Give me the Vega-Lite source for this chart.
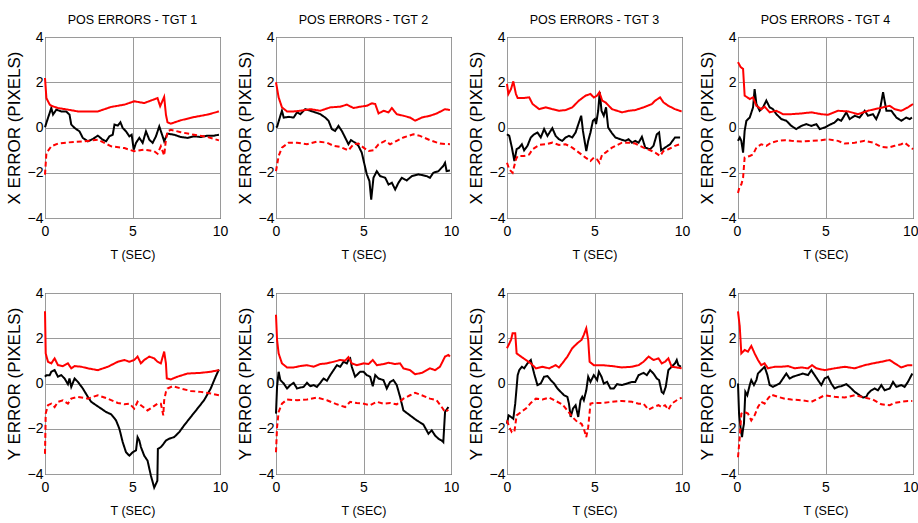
{
  "$schema": "https://vega.github.io/schema/vega-lite/v6.json",
  "background": "#ffffff",
  "padding": {"left": 4, "top": 13, "right": 0, "bottom": 5},
  "config": {
    "font": "Liberation Sans",
    "view": {"stroke": "#000000", "strokeWidth": 1},
    "axis": {
      "grid": true,
      "gridColor": "#9a9a9a",
      "gridWidth": 1,
      "domain": false,
      "ticks": false,
      "labelFont": "Liberation Sans",
      "labelFontSize": 14,
      "labelColor": "#000000",
      "labelFlush": false,
      "titleColor": "#000000",
      "titleFontWeight": "normal"
    },
    "axisX": {"labelPadding": 6, "titleFont": "Liberation Sans", "titleFontSize": 12.5, "titlePadding": 10},
    "axisY": {"labelPadding": 2, "titleFont": "Liberation Sans", "titleFontSize": 17, "titlePadding": 4},
    "title": {"font": "Liberation Sans", "fontSize": 12.5, "fontWeight": "normal", "color": "#000000", "baseline": "alphabetic", "offset": 3.5},
    "line": {"strokeWidth": 2, "clip": true}
  },
  "datasets": {
    "X1": [
      {"s":"err","t":0,"v":0.01},{"s":"err","t":0.17,"v":0.42},{"s":"err","t":0.36,"v":0.86},{"s":"err","t":0.46,"v":0.57},{"s":"err","t":0.65,"v":0.79},{"s":"err","t":0.93,"v":0.71},{"s":"err","t":1.21,"v":0.71},{"s":"err","t":1.40,"v":0.57},{"s":"err","t":1.50,"v":0.13},{"s":"err","t":1.69,"v":-0.02},{"s":"err","t":1.97,"v":-0.17},{"s":"err","t":2.16,"v":-0.46},{"s":"err","t":2.45,"v":-0.61},{"s":"err","t":2.73,"v":-0.51},{"s":"err","t":3.02,"v":-0.36},{"s":"err","t":3.30,"v":-0.54},{"s":"err","t":3.49,"v":-0.61},{"s":"err","t":3.68,"v":-0.39},{"s":"err","t":3.87,"v":-0.32},{"s":"err","t":3.97,"v":0.13},{"s":"err","t":4.16,"v":0.08},{"s":"err","t":4.31,"v":0.23},{"s":"err","t":4.44,"v":-0.02},{"s":"err","t":4.63,"v":-0.17},{"s":"err","t":4.82,"v":-0.39},{"s":"err","t":4.95,"v":-0.32},{"s":"err","t":5.07,"v":-0.98},{"s":"err","t":5.20,"v":-0.68},{"s":"err","t":5.39,"v":-0.46},{"s":"err","t":5.58,"v":-0.68},{"s":"err","t":5.77,"v":-0.17},{"s":"err","t":5.96,"v":-0.54},{"s":"err","t":6.15,"v":-0.68},{"s":"err","t":6.34,"v":-0.39},{"s":"err","t":6.53,"v":0.05},{"s":"err","t":6.72,"v":-0.39},{"s":"err","t":6.81,"v":-0.61},{"s":"err","t":7.00,"v":-0.27},{"s":"err","t":7.38,"v":-0.32},{"s":"err","t":7.76,"v":-0.42},{"s":"err","t":8.14,"v":-0.46},{"s":"err","t":8.52,"v":-0.39},{"s":"err","t":8.90,"v":-0.42},{"s":"err","t":9.28,"v":-0.36},{"s":"err","t":9.66,"v":-0.36},{"s":"err","t":9.94,"v":-0.32},
      {"s":"hi","t":0,"v":2.19},{"s":"hi","t":0.08,"v":1.30},{"s":"hi","t":0.27,"v":1.01},{"s":"hi","t":0.36,"v":0.96},{"s":"hi","t":0.74,"v":0.86},{"s":"hi","t":1.31,"v":0.79},{"s":"hi","t":1.88,"v":0.71},{"s":"hi","t":2.26,"v":0.71},{"s":"hi","t":3.02,"v":0.71},{"s":"hi","t":3.78,"v":0.91},{"s":"hi","t":4.54,"v":1.01},{"s":"hi","t":5.10,"v":1.16},{"s":"hi","t":5.67,"v":1.08},{"s":"hi","t":6.43,"v":1.30},{"s":"hi","t":6.58,"v":0.94},{"s":"hi","t":6.81,"v":1.35},{"s":"hi","t":6.91,"v":0.57},{"s":"hi","t":7.00,"v":0.23},{"s":"hi","t":7.19,"v":0.17},{"s":"hi","t":7.76,"v":0.32},{"s":"hi","t":8.52,"v":0.46},{"s":"hi","t":9.28,"v":0.57},{"s":"hi","t":9.94,"v":0.71},
      {"s":"lo","t":0,"v":-2.08},{"s":"lo","t":0.08,"v":-1.13},{"s":"lo","t":0.36,"v":-0.83},{"s":"lo","t":0.74,"v":-0.71},{"s":"lo","t":1.31,"v":-0.66},{"s":"lo","t":2.26,"v":-0.61},{"s":"lo","t":3.02,"v":-0.54},{"s":"lo","t":3.78,"v":-0.83},{"s":"lo","t":4.54,"v":-0.91},{"s":"lo","t":5.10,"v":-1.05},{"s":"lo","t":5.67,"v":-0.98},{"s":"lo","t":6.24,"v":-1.05},{"s":"lo","t":6.43,"v":-1.16},{"s":"lo","t":6.62,"v":-0.83},{"s":"lo","t":6.81,"v":-1.24},{"s":"lo","t":6.91,"v":-0.54},{"s":"lo","t":7.00,"v":-0.17},{"s":"lo","t":7.19,"v":-0.10},{"s":"lo","t":7.76,"v":-0.21},{"s":"lo","t":8.52,"v":-0.32},{"s":"lo","t":9.28,"v":-0.42},{"s":"lo","t":9.94,"v":-0.57}
    ],
    "X2": [
      {"s":"err","t":0,"v":0.0},{"s":"err","t":0.06,"v":0.03},{"s":"err","t":0.25,"v":0.52},{"s":"err","t":0.34,"v":0.74},{"s":"err","t":0.44,"v":0.44},{"s":"err","t":0.72,"v":0.47},{"s":"err","t":1.01,"v":0.44},{"s":"err","t":1.20,"v":0.67},{"s":"err","t":1.39,"v":0.59},{"s":"err","t":1.67,"v":0.81},{"s":"err","t":1.96,"v":0.74},{"s":"err","t":2.24,"v":0.67},{"s":"err","t":2.53,"v":0.59},{"s":"err","t":2.81,"v":0.44},{"s":"err","t":3.00,"v":0.30},{"s":"err","t":3.19,"v":-0.07},{"s":"err","t":3.38,"v":-0.15},{"s":"err","t":3.57,"v":0.07},{"s":"err","t":3.76,"v":-0.15},{"s":"err","t":3.95,"v":-0.44},{"s":"err","t":4.14,"v":-0.74},{"s":"err","t":4.28,"v":-0.56},{"s":"err","t":4.52,"v":-0.67},{"s":"err","t":4.71,"v":-0.81},{"s":"err","t":4.90,"v":-1.11},{"s":"err","t":5.10,"v":-1.78},{"s":"err","t":5.19,"v":-2.07},{"s":"err","t":5.34,"v":-2.37},{"s":"err","t":5.44,"v":-3.19},{"s":"err","t":5.57,"v":-2.22},{"s":"err","t":5.76,"v":-1.93},{"s":"err","t":5.95,"v":-2.15},{"s":"err","t":6.24,"v":-2.22},{"s":"err","t":6.43,"v":-2.52},{"s":"err","t":6.62,"v":-2.44},{"s":"err","t":6.81,"v":-2.74},{"s":"err","t":7.00,"v":-2.44},{"s":"err","t":7.19,"v":-2.22},{"s":"err","t":7.47,"v":-2.34},{"s":"err","t":7.76,"v":-2.15},{"s":"err","t":8.14,"v":-2.07},{"s":"err","t":8.61,"v":-2.15},{"s":"err","t":8.80,"v":-2.22},{"s":"err","t":8.99,"v":-2.0},{"s":"err","t":9.28,"v":-1.93},{"s":"err","t":9.56,"v":-1.70},{"s":"err","t":9.66,"v":-1.56},{"s":"err","t":9.75,"v":-1.93},{"s":"err","t":9.94,"v":-1.90},
      {"s":"hi","t":0,"v":2.0},{"s":"hi","t":0.15,"v":1.33},{"s":"hi","t":0.34,"v":0.89},{"s":"hi","t":0.63,"v":0.71},{"s":"hi","t":1.01,"v":0.71},{"s":"hi","t":1.39,"v":0.74},{"s":"hi","t":1.96,"v":0.81},{"s":"hi","t":2.53,"v":0.74},{"s":"hi","t":3.10,"v":0.89},{"s":"hi","t":3.67,"v":0.92},{"s":"hi","t":4.05,"v":1.01},{"s":"hi","t":4.43,"v":0.86},{"s":"hi","t":4.81,"v":0.92},{"s":"hi","t":5.19,"v":0.96},{"s":"hi","t":5.48,"v":1.07},{"s":"hi","t":5.67,"v":1.04},{"s":"hi","t":5.86,"v":0.62},{"s":"hi","t":6.14,"v":0.74},{"s":"hi","t":6.43,"v":0.67},{"s":"hi","t":6.62,"v":0.86},{"s":"hi","t":6.90,"v":0.59},{"s":"hi","t":7.28,"v":0.52},{"s":"hi","t":7.66,"v":0.44},{"s":"hi","t":7.95,"v":0.30},{"s":"hi","t":8.33,"v":0.44},{"s":"hi","t":8.80,"v":0.52},{"s":"hi","t":9.18,"v":0.62},{"s":"hi","t":9.66,"v":0.81},{"s":"hi","t":9.94,"v":0.77},
      {"s":"lo","t":0,"v":-1.93},{"s":"lo","t":0.15,"v":-1.26},{"s":"lo","t":0.34,"v":-0.89},{"s":"lo","t":0.72,"v":-0.67},{"s":"lo","t":1.20,"v":-0.67},{"s":"lo","t":1.77,"v":-0.74},{"s":"lo","t":2.34,"v":-0.62},{"s":"lo","t":2.91,"v":-0.67},{"s":"lo","t":3.29,"v":-0.81},{"s":"lo","t":3.67,"v":-0.86},{"s":"lo","t":4.14,"v":-1.01},{"s":"lo","t":4.43,"v":-0.74},{"s":"lo","t":4.71,"v":-0.71},{"s":"lo","t":5.00,"v":-0.89},{"s":"lo","t":5.29,"v":-1.04},{"s":"lo","t":5.57,"v":-1.01},{"s":"lo","t":5.86,"v":-0.74},{"s":"lo","t":6.24,"v":-0.59},{"s":"lo","t":6.52,"v":-0.74},{"s":"lo","t":6.90,"v":-0.59},{"s":"lo","t":7.28,"v":-0.44},{"s":"lo","t":7.85,"v":-0.30},{"s":"lo","t":8.23,"v":-0.37},{"s":"lo","t":8.80,"v":-0.56},{"s":"lo","t":9.37,"v":-0.71},{"s":"lo","t":9.94,"v":-0.74}
    ],
    "X3": [
      {"s":"err","t":0,"v":-0.30},{"s":"err","t":0.13,"v":-0.37},{"s":"err","t":0.28,"v":-0.89},{"s":"err","t":0.42,"v":-1.48},{"s":"err","t":0.55,"v":-0.96},{"s":"err","t":0.70,"v":-0.89},{"s":"err","t":0.85,"v":-0.74},{"s":"err","t":0.98,"v":-1.01},{"s":"err","t":1.17,"v":-0.81},{"s":"err","t":1.36,"v":-0.44},{"s":"err","t":1.55,"v":-0.30},{"s":"err","t":1.74,"v":-0.22},{"s":"err","t":1.93,"v":-0.44},{"s":"err","t":2.12,"v":-0.07},{"s":"err","t":2.31,"v":-0.37},{"s":"err","t":2.59,"v":-0.03},{"s":"err","t":2.78,"v":-0.37},{"s":"err","t":2.97,"v":-0.52},{"s":"err","t":3.16,"v":-0.59},{"s":"err","t":3.35,"v":-0.44},{"s":"err","t":3.54,"v":-0.37},{"s":"err","t":3.73,"v":-0.44},{"s":"err","t":3.92,"v":-0.22},{"s":"err","t":4.11,"v":0.22},{"s":"err","t":4.24,"v":0.52},{"s":"err","t":4.34,"v":-0.15},{"s":"err","t":4.53,"v":-1.04},{"s":"err","t":4.64,"v":-0.59},{"s":"err","t":4.77,"v":-0.22},{"s":"err","t":4.91,"v":0.30},{"s":"err","t":5.02,"v":0.37},{"s":"err","t":5.09,"v":0.15},{"s":"err","t":5.21,"v":0.74},{"s":"err","t":5.30,"v":1.56},{"s":"err","t":5.40,"v":0.74},{"s":"err","t":5.53,"v":0.52},{"s":"err","t":5.66,"v":0.89},{"s":"err","t":5.78,"v":0.0},{"s":"err","t":5.97,"v":-0.22},{"s":"err","t":6.19,"v":-0.44},{"s":"err","t":6.48,"v":-0.52},{"s":"err","t":6.76,"v":-0.59},{"s":"err","t":6.95,"v":-0.52},{"s":"err","t":7.14,"v":-0.67},{"s":"err","t":7.33,"v":-0.59},{"s":"err","t":7.52,"v":-0.67},{"s":"err","t":7.71,"v":-0.41},{"s":"err","t":7.90,"v":-0.89},{"s":"err","t":8.18,"v":-0.96},{"s":"err","t":8.37,"v":-0.81},{"s":"err","t":8.56,"v":-0.30},{"s":"err","t":8.69,"v":-0.22},{"s":"err","t":8.81,"v":-1.01},{"s":"err","t":9.03,"v":-0.89},{"s":"err","t":9.32,"v":-0.74},{"s":"err","t":9.60,"v":-0.44},{"s":"err","t":9.89,"v":-0.44},
      {"s":"hi","t":0,"v":1.93},{"s":"hi","t":0.08,"v":1.48},{"s":"hi","t":0.23,"v":1.70},{"s":"hi","t":0.36,"v":2.04},{"s":"hi","t":0.51,"v":1.48},{"s":"hi","t":0.61,"v":1.30},{"s":"hi","t":0.89,"v":1.30},{"s":"hi","t":1.27,"v":1.33},{"s":"hi","t":1.46,"v":1.04},{"s":"hi","t":1.84,"v":0.81},{"s":"hi","t":2.22,"v":0.89},{"s":"hi","t":2.59,"v":0.81},{"s":"hi","t":2.97,"v":0.74},{"s":"hi","t":3.35,"v":0.77},{"s":"hi","t":3.73,"v":0.89},{"s":"hi","t":4.11,"v":1.19},{"s":"hi","t":4.49,"v":1.41},{"s":"hi","t":4.77,"v":1.48},{"s":"hi","t":4.96,"v":1.33},{"s":"hi","t":5.15,"v":1.41},{"s":"hi","t":5.28,"v":1.56},{"s":"hi","t":5.44,"v":1.19},{"s":"hi","t":5.63,"v":1.11},{"s":"hi","t":6.00,"v":0.81},{"s":"hi","t":6.57,"v":0.67},{"s":"hi","t":6.95,"v":0.74},{"s":"hi","t":7.33,"v":0.77},{"s":"hi","t":7.80,"v":0.89},{"s":"hi","t":8.28,"v":1.04},{"s":"hi","t":8.47,"v":1.19},{"s":"hi","t":8.75,"v":1.33},{"s":"hi","t":8.94,"v":1.11},{"s":"hi","t":9.22,"v":0.96},{"s":"hi","t":9.60,"v":0.81},{"s":"hi","t":9.98,"v":0.71},
      {"s":"lo","t":0,"v":-1.56},{"s":"lo","t":0.13,"v":-1.85},{"s":"lo","t":0.32,"v":-2.0},{"s":"lo","t":0.51,"v":-1.41},{"s":"lo","t":0.61,"v":-1.26},{"s":"lo","t":0.98,"v":-1.26},{"s":"lo","t":1.27,"v":-1.19},{"s":"lo","t":1.46,"v":-0.96},{"s":"lo","t":1.84,"v":-0.77},{"s":"lo","t":2.22,"v":-0.74},{"s":"lo","t":2.59,"v":-0.67},{"s":"lo","t":2.97,"v":-0.77},{"s":"lo","t":3.35,"v":-0.74},{"s":"lo","t":3.73,"v":-0.89},{"s":"lo","t":4.11,"v":-1.11},{"s":"lo","t":4.49,"v":-1.33},{"s":"lo","t":4.77,"v":-1.48},{"s":"lo","t":4.96,"v":-1.33},{"s":"lo","t":5.15,"v":-1.41},{"s":"lo","t":5.28,"v":-1.56},{"s":"lo","t":5.44,"v":-1.19},{"s":"lo","t":5.63,"v":-1.11},{"s":"lo","t":6.00,"v":-0.89},{"s":"lo","t":6.57,"v":-0.67},{"s":"lo","t":6.95,"v":-0.67},{"s":"lo","t":7.33,"v":-0.71},{"s":"lo","t":7.80,"v":-0.89},{"s":"lo","t":8.28,"v":-1.04},{"s":"lo","t":8.47,"v":-1.11},{"s":"lo","t":8.75,"v":-1.26},{"s":"lo","t":8.94,"v":-1.04},{"s":"lo","t":9.22,"v":-0.96},{"s":"lo","t":9.60,"v":-0.81},{"s":"lo","t":9.98,"v":-0.71}
    ],
    "X4": [
      {"s":"err","t":0,"v":-0.59},{"s":"err","t":0.10,"v":-0.44},{"s":"err","t":0.19,"v":-0.59},{"s":"err","t":0.29,"v":-1.11},{"s":"err","t":0.38,"v":-0.15},{"s":"err","t":0.48,"v":0.30},{"s":"err","t":0.67,"v":0.44},{"s":"err","t":0.86,"v":0.89},{"s":"err","t":0.95,"v":1.70},{"s":"err","t":1.05,"v":1.04},{"s":"err","t":1.24,"v":0.74},{"s":"err","t":1.43,"v":0.89},{"s":"err","t":1.62,"v":1.19},{"s":"err","t":1.81,"v":0.89},{"s":"err","t":2.0,"v":0.81},{"s":"err","t":2.19,"v":0.59},{"s":"err","t":2.48,"v":0.37},{"s":"err","t":2.76,"v":0.30},{"s":"err","t":3.05,"v":0.07},{"s":"err","t":3.33,"v":-0.07},{"s":"err","t":3.62,"v":0.07},{"s":"err","t":3.90,"v":0.15},{"s":"err","t":4.19,"v":0.07},{"s":"err","t":4.48,"v":0.15},{"s":"err","t":4.67,"v":-0.07},{"s":"err","t":4.95,"v":0.0},{"s":"err","t":5.24,"v":0.12},{"s":"err","t":5.52,"v":0.22},{"s":"err","t":5.71,"v":0.37},{"s":"err","t":5.90,"v":0.30},{"s":"err","t":6.19,"v":0.67},{"s":"err","t":6.38,"v":0.37},{"s":"err","t":6.67,"v":0.52},{"s":"err","t":6.95,"v":0.44},{"s":"err","t":7.24,"v":0.74},{"s":"err","t":7.43,"v":0.52},{"s":"err","t":7.71,"v":0.59},{"s":"err","t":7.90,"v":0.37},{"s":"err","t":8.10,"v":0.74},{"s":"err","t":8.29,"v":1.56},{"s":"err","t":8.48,"v":0.74},{"s":"err","t":8.76,"v":0.74},{"s":"err","t":9.05,"v":0.44},{"s":"err","t":9.33,"v":0.30},{"s":"err","t":9.62,"v":0.44},{"s":"err","t":9.81,"v":0.37},{"s":"err","t":9.94,"v":0.44},
      {"s":"hi","t":0,"v":2.89},{"s":"hi","t":0.15,"v":2.67},{"s":"hi","t":0.29,"v":2.59},{"s":"hi","t":0.38,"v":1.41},{"s":"hi","t":0.67,"v":1.26},{"s":"hi","t":0.86,"v":1.33},{"s":"hi","t":1.05,"v":0.96},{"s":"hi","t":1.33,"v":0.81},{"s":"hi","t":1.52,"v":0.92},{"s":"hi","t":1.81,"v":0.67},{"s":"hi","t":2.19,"v":0.74},{"s":"hi","t":2.57,"v":0.59},{"s":"hi","t":3.05,"v":0.59},{"s":"hi","t":3.62,"v":0.62},{"s":"hi","t":4.19,"v":0.67},{"s":"hi","t":4.76,"v":0.59},{"s":"hi","t":5.14,"v":0.56},{"s":"hi","t":5.71,"v":0.74},{"s":"hi","t":6.29,"v":0.71},{"s":"hi","t":6.86,"v":0.59},{"s":"hi","t":7.43,"v":0.74},{"s":"hi","t":7.81,"v":0.81},{"s":"hi","t":8.29,"v":0.89},{"s":"hi","t":8.67,"v":0.96},{"s":"hi","t":8.95,"v":0.81},{"s":"hi","t":9.33,"v":0.74},{"s":"hi","t":9.71,"v":0.89},{"s":"hi","t":10.0,"v":1.04},
      {"s":"lo","t":0,"v":-2.89},{"s":"lo","t":0.10,"v":-2.59},{"s":"lo","t":0.19,"v":-2.52},{"s":"lo","t":0.29,"v":-2.22},{"s":"lo","t":0.38,"v":-1.33},{"s":"lo","t":0.67,"v":-1.26},{"s":"lo","t":0.86,"v":-1.19},{"s":"lo","t":1.05,"v":-0.89},{"s":"lo","t":1.33,"v":-0.74},{"s":"lo","t":1.62,"v":-0.81},{"s":"lo","t":1.90,"v":-0.67},{"s":"lo","t":2.29,"v":-0.59},{"s":"lo","t":2.67,"v":-0.56},{"s":"lo","t":3.05,"v":-0.59},{"s":"lo","t":3.62,"v":-0.62},{"s":"lo","t":4.19,"v":-0.59},{"s":"lo","t":4.76,"v":-0.56},{"s":"lo","t":5.14,"v":-0.52},{"s":"lo","t":5.71,"v":-0.59},{"s":"lo","t":6.10,"v":-0.71},{"s":"lo","t":6.67,"v":-0.67},{"s":"lo","t":7.24,"v":-0.59},{"s":"lo","t":7.71,"v":-0.67},{"s":"lo","t":8.19,"v":-0.86},{"s":"lo","t":8.57,"v":-0.89},{"s":"lo","t":8.95,"v":-0.81},{"s":"lo","t":9.33,"v":-0.74},{"s":"lo","t":9.52,"v":-0.67},{"s":"lo","t":10.0,"v":-0.96}
    ],
    "Y1": [
      {"s":"err","t":0,"v":0.30},{"s":"err","t":0.08,"v":0.37},{"s":"err","t":0.27,"v":0.37},{"s":"err","t":0.36,"v":0.52},{"s":"err","t":0.55,"v":0.59},{"s":"err","t":0.74,"v":0.30},{"s":"err","t":0.93,"v":0.37},{"s":"err","t":1.12,"v":0.22},{"s":"err","t":1.31,"v":-0.03},{"s":"err","t":1.40,"v":0.22},{"s":"err","t":1.50,"v":-0.15},{"s":"err","t":1.69,"v":0.22},{"s":"err","t":1.88,"v":0.07},{"s":"err","t":2.16,"v":-0.22},{"s":"err","t":2.45,"v":-0.59},{"s":"err","t":2.64,"v":-0.81},{"s":"err","t":2.92,"v":-0.96},{"s":"err","t":3.21,"v":-1.11},{"s":"err","t":3.49,"v":-1.26},{"s":"err","t":3.78,"v":-1.36},{"s":"err","t":4.06,"v":-1.63},{"s":"err","t":4.25,"v":-2.0},{"s":"err","t":4.44,"v":-2.59},{"s":"err","t":4.63,"v":-3.04},{"s":"err","t":4.82,"v":-3.19},{"s":"err","t":5.01,"v":-3.04},{"s":"err","t":5.20,"v":-2.96},{"s":"err","t":5.29,"v":-2.37},{"s":"err","t":5.39,"v":-2.52},{"s":"err","t":5.48,"v":-2.81},{"s":"err","t":5.67,"v":-3.19},{"s":"err","t":5.86,"v":-3.41},{"s":"err","t":6.05,"v":-4.07},{"s":"err","t":6.24,"v":-4.6},{"s":"err","t":6.42,"v":-4.3},{"s":"err","t":6.45,"v":-2.89},{"s":"err","t":6.62,"v":-2.81},{"s":"err","t":6.77,"v":-2.67},{"s":"err","t":6.91,"v":-2.52},{"s":"err","t":7.10,"v":-2.44},{"s":"err","t":7.38,"v":-2.37},{"s":"err","t":7.67,"v":-2.15},{"s":"err","t":7.95,"v":-1.85},{"s":"err","t":8.33,"v":-1.48},{"s":"err","t":8.71,"v":-1.11},{"s":"err","t":9.09,"v":-0.74},{"s":"err","t":9.47,"v":-0.22},{"s":"err","t":9.75,"v":0.30},{"s":"err","t":9.94,"v":0.62},
      {"s":"hi","t":0,"v":3.19},{"s":"hi","t":0.04,"v":1.33},{"s":"hi","t":0.17,"v":0.96},{"s":"hi","t":0.36,"v":0.89},{"s":"hi","t":0.55,"v":1.11},{"s":"hi","t":0.74,"v":0.81},{"s":"hi","t":1.02,"v":0.77},{"s":"hi","t":1.31,"v":0.89},{"s":"hi","t":1.50,"v":0.67},{"s":"hi","t":1.69,"v":0.77},{"s":"hi","t":2.07,"v":0.74},{"s":"hi","t":2.45,"v":0.67},{"s":"hi","t":3.02,"v":0.59},{"s":"hi","t":3.59,"v":0.74},{"s":"hi","t":4.16,"v":0.96},{"s":"hi","t":4.54,"v":1.04},{"s":"hi","t":4.82,"v":0.96},{"s":"hi","t":5.10,"v":1.04},{"s":"hi","t":5.29,"v":1.19},{"s":"hi","t":5.48,"v":0.89},{"s":"hi","t":5.67,"v":1.04},{"s":"hi","t":5.96,"v":1.19},{"s":"hi","t":6.24,"v":1.11},{"s":"hi","t":6.43,"v":0.96},{"s":"hi","t":6.62,"v":0.89},{"s":"hi","t":6.81,"v":1.41},{"s":"hi","t":6.91,"v":0.89},{"s":"hi","t":6.96,"v":0.22},{"s":"hi","t":7.19,"v":0.18},{"s":"hi","t":7.57,"v":0.30},{"s":"hi","t":8.14,"v":0.44},{"s":"hi","t":8.90,"v":0.47},{"s":"hi","t":9.47,"v":0.52},{"s":"hi","t":9.94,"v":0.59},
      {"s":"lo","t":0,"v":-3.11},{"s":"lo","t":0.04,"v":-1.33},{"s":"lo","t":0.17,"v":-0.96},{"s":"lo","t":0.36,"v":-0.89},{"s":"lo","t":0.55,"v":-1.04},{"s":"lo","t":0.74,"v":-0.81},{"s":"lo","t":1.02,"v":-0.74},{"s":"lo","t":1.31,"v":-0.89},{"s":"lo","t":1.50,"v":-0.67},{"s":"lo","t":1.88,"v":-0.59},{"s":"lo","t":2.45,"v":-0.67},{"s":"lo","t":3.02,"v":-0.52},{"s":"lo","t":3.59,"v":-0.67},{"s":"lo","t":4.16,"v":-0.86},{"s":"lo","t":4.54,"v":-0.92},{"s":"lo","t":4.82,"v":-0.89},{"s":"lo","t":5.10,"v":-1.11},{"s":"lo","t":5.29,"v":-0.81},{"s":"lo","t":5.48,"v":-0.96},{"s":"lo","t":5.86,"v":-1.19},{"s":"lo","t":6.15,"v":-1.04},{"s":"lo","t":6.43,"v":-0.89},{"s":"lo","t":6.62,"v":-0.89},{"s":"lo","t":6.76,"v":-1.41},{"s":"lo","t":6.81,"v":-0.74},{"s":"lo","t":6.91,"v":-0.37},{"s":"lo","t":7.00,"v":-0.22},{"s":"lo","t":7.29,"v":-0.12},{"s":"lo","t":7.76,"v":-0.22},{"s":"lo","t":8.33,"v":-0.33},{"s":"lo","t":8.90,"v":-0.37},{"s":"lo","t":9.47,"v":-0.44},{"s":"lo","t":9.94,"v":-0.52}
    ],
    "Y2": [
      {"s":"err","t":0,"v":-1.33},{"s":"err","t":0.06,"v":-0.15},{"s":"err","t":0.15,"v":0.52},{"s":"err","t":0.25,"v":0.15},{"s":"err","t":0.44,"v":0.0},{"s":"err","t":0.63,"v":-0.22},{"s":"err","t":0.82,"v":-0.07},{"s":"err","t":1.01,"v":0.03},{"s":"err","t":1.20,"v":-0.22},{"s":"err","t":1.39,"v":-0.18},{"s":"err","t":1.58,"v":-0.15},{"s":"err","t":1.77,"v":0.03},{"s":"err","t":1.96,"v":-0.12},{"s":"err","t":2.15,"v":-0.07},{"s":"err","t":2.34,"v":-0.15},{"s":"err","t":2.53,"v":0.03},{"s":"err","t":2.72,"v":0.22},{"s":"err","t":2.91,"v":0.12},{"s":"err","t":3.10,"v":0.37},{"s":"err","t":3.29,"v":0.59},{"s":"err","t":3.48,"v":0.81},{"s":"err","t":3.67,"v":0.74},{"s":"err","t":3.86,"v":0.96},{"s":"err","t":4.05,"v":0.89},{"s":"err","t":4.14,"v":1.04},{"s":"err","t":4.24,"v":1.11},{"s":"err","t":4.33,"v":0.74},{"s":"err","t":4.52,"v":0.30},{"s":"err","t":4.81,"v":0.52},{"s":"err","t":5.00,"v":0.52},{"s":"err","t":5.19,"v":0.37},{"s":"err","t":5.38,"v":0.30},{"s":"err","t":5.53,"v":-0.12},{"s":"err","t":5.67,"v":0.37},{"s":"err","t":5.86,"v":0.22},{"s":"err","t":6.14,"v":0.15},{"s":"err","t":6.33,"v":-0.22},{"s":"err","t":6.52,"v":0.07},{"s":"err","t":6.71,"v":0.15},{"s":"err","t":6.90,"v":-0.07},{"s":"err","t":7.09,"v":-0.59},{"s":"err","t":7.28,"v":-1.19},{"s":"err","t":7.66,"v":-1.41},{"s":"err","t":8.04,"v":-1.63},{"s":"err","t":8.42,"v":-1.81},{"s":"err","t":8.71,"v":-2.22},{"s":"err","t":8.90,"v":-2.07},{"s":"err","t":9.09,"v":-2.30},{"s":"err","t":9.28,"v":-2.44},{"s":"err","t":9.47,"v":-2.52},{"s":"err","t":9.56,"v":-2.59},{"s":"err","t":9.66,"v":-1.26},{"s":"err","t":9.85,"v":-1.04},
      {"s":"hi","t":0,"v":3.04},{"s":"hi","t":0.06,"v":1.93},{"s":"hi","t":0.15,"v":1.33},{"s":"hi","t":0.34,"v":0.89},{"s":"hi","t":0.63,"v":0.71},{"s":"hi","t":1.01,"v":0.71},{"s":"hi","t":1.39,"v":0.77},{"s":"hi","t":1.77,"v":0.81},{"s":"hi","t":2.15,"v":0.74},{"s":"hi","t":2.53,"v":0.86},{"s":"hi","t":2.91,"v":0.89},{"s":"hi","t":3.29,"v":0.96},{"s":"hi","t":3.67,"v":1.04},{"s":"hi","t":3.95,"v":1.01},{"s":"hi","t":4.14,"v":1.16},{"s":"hi","t":4.33,"v":0.89},{"s":"hi","t":4.62,"v":0.81},{"s":"hi","t":5.00,"v":0.89},{"s":"hi","t":5.29,"v":0.86},{"s":"hi","t":5.53,"v":1.04},{"s":"hi","t":5.76,"v":0.81},{"s":"hi","t":6.14,"v":0.86},{"s":"hi","t":6.43,"v":0.92},{"s":"hi","t":6.81,"v":0.86},{"s":"hi","t":7.09,"v":0.89},{"s":"hi","t":7.28,"v":0.67},{"s":"hi","t":7.66,"v":0.59},{"s":"hi","t":7.95,"v":0.41},{"s":"hi","t":8.33,"v":0.47},{"s":"hi","t":8.80,"v":0.67},{"s":"hi","t":9.09,"v":0.59},{"s":"hi","t":9.37,"v":0.74},{"s":"hi","t":9.66,"v":1.19},{"s":"hi","t":9.85,"v":1.26},{"s":"hi","t":9.94,"v":1.19},
      {"s":"lo","t":0,"v":-3.04},{"s":"lo","t":0.06,"v":-1.93},{"s":"lo","t":0.15,"v":-1.26},{"s":"lo","t":0.34,"v":-0.89},{"s":"lo","t":0.63,"v":-0.71},{"s":"lo","t":1.20,"v":-0.74},{"s":"lo","t":1.77,"v":-0.71},{"s":"lo","t":2.34,"v":-0.62},{"s":"lo","t":2.91,"v":-0.74},{"s":"lo","t":3.48,"v":-0.92},{"s":"lo","t":3.95,"v":-1.04},{"s":"lo","t":4.24,"v":-0.81},{"s":"lo","t":4.62,"v":-0.86},{"s":"lo","t":5.00,"v":-0.89},{"s":"lo","t":5.38,"v":-0.96},{"s":"lo","t":5.76,"v":-0.81},{"s":"lo","t":6.14,"v":-0.89},{"s":"lo","t":6.52,"v":-0.86},{"s":"lo","t":6.90,"v":-0.92},{"s":"lo","t":7.28,"v":-0.67},{"s":"lo","t":7.66,"v":-0.52},{"s":"lo","t":7.95,"v":-0.41},{"s":"lo","t":8.33,"v":-0.52},{"s":"lo","t":8.80,"v":-0.67},{"s":"lo","t":9.18,"v":-0.74},{"s":"lo","t":9.47,"v":-1.04},{"s":"lo","t":9.66,"v":-1.26},{"s":"lo","t":9.85,"v":-1.16}
    ],
    "Y3": [
      {"s":"err","t":0,"v":-1.78},{"s":"err","t":0.09,"v":-1.41},{"s":"err","t":0.23,"v":-1.48},{"s":"err","t":0.36,"v":-1.56},{"s":"err","t":0.47,"v":-0.89},{"s":"err","t":0.61,"v":0.37},{"s":"err","t":0.70,"v":0.59},{"s":"err","t":0.85,"v":0.74},{"s":"err","t":0.98,"v":0.67},{"s":"err","t":1.17,"v":0.89},{"s":"err","t":1.36,"v":1.04},{"s":"err","t":1.55,"v":0.44},{"s":"err","t":1.74,"v":-0.07},{"s":"err","t":1.93,"v":0.0},{"s":"err","t":2.12,"v":0.30},{"s":"err","t":2.31,"v":0.33},{"s":"err","t":2.50,"v":0.15},{"s":"err","t":2.69,"v":0.0},{"s":"err","t":2.88,"v":-0.22},{"s":"err","t":3.07,"v":-0.37},{"s":"err","t":3.26,"v":-0.52},{"s":"err","t":3.45,"v":-0.59},{"s":"err","t":3.54,"v":-0.89},{"s":"err","t":3.64,"v":-1.48},{"s":"err","t":3.77,"v":-1.11},{"s":"err","t":3.92,"v":-0.96},{"s":"err","t":4.07,"v":-1.48},{"s":"err","t":4.20,"v":-0.74},{"s":"err","t":4.30,"v":-0.59},{"s":"err","t":4.39,"v":-0.74},{"s":"err","t":4.53,"v":-0.30},{"s":"err","t":4.64,"v":0.30},{"s":"err","t":4.77,"v":0.07},{"s":"err","t":4.96,"v":0.37},{"s":"err","t":5.15,"v":0.15},{"s":"err","t":5.25,"v":0.52},{"s":"err","t":5.40,"v":0.30},{"s":"err","t":5.53,"v":0.0},{"s":"err","t":5.72,"v":0.07},{"s":"err","t":5.91,"v":-0.22},{"s":"err","t":6.10,"v":-0.22},{"s":"err","t":6.29,"v":-0.03},{"s":"err","t":6.57,"v":-0.07},{"s":"err","t":6.86,"v":0.0},{"s":"err","t":7.14,"v":0.07},{"s":"err","t":7.33,"v":0.07},{"s":"err","t":7.52,"v":0.37},{"s":"err","t":7.80,"v":0.47},{"s":"err","t":7.99,"v":0.37},{"s":"err","t":8.18,"v":0.59},{"s":"err","t":8.37,"v":0.44},{"s":"err","t":8.56,"v":0.22},{"s":"err","t":8.69,"v":0.15},{"s":"err","t":8.84,"v":-0.37},{"s":"err","t":8.94,"v":-0.44},{"s":"err","t":9.07,"v":-0.15},{"s":"err","t":9.22,"v":0.59},{"s":"err","t":9.41,"v":0.74},{"s":"err","t":9.60,"v":0.89},{"s":"err","t":9.70,"v":1.04},{"s":"err","t":9.79,"v":0.81},{"s":"err","t":9.94,"v":0.74},
      {"s":"hi","t":0,"v":1.56},{"s":"hi","t":0.09,"v":1.70},{"s":"hi","t":0.23,"v":1.93},{"s":"hi","t":0.32,"v":2.22},{"s":"hi","t":0.47,"v":2.22},{"s":"hi","t":0.55,"v":1.33},{"s":"hi","t":0.80,"v":1.19},{"s":"hi","t":1.08,"v":1.04},{"s":"hi","t":1.36,"v":0.89},{"s":"hi","t":1.65,"v":0.67},{"s":"hi","t":2.03,"v":0.74},{"s":"hi","t":2.41,"v":0.67},{"s":"hi","t":2.78,"v":0.81},{"s":"hi","t":2.97,"v":0.71},{"s":"hi","t":3.16,"v":0.89},{"s":"hi","t":3.45,"v":1.19},{"s":"hi","t":3.73,"v":1.56},{"s":"hi","t":4.02,"v":1.78},{"s":"hi","t":4.26,"v":1.93},{"s":"hi","t":4.39,"v":2.15},{"s":"hi","t":4.53,"v":2.44},{"s":"hi","t":4.64,"v":1.93},{"s":"hi","t":4.72,"v":0.96},{"s":"hi","t":4.96,"v":0.81},{"s":"hi","t":5.44,"v":0.81},{"s":"hi","t":6.00,"v":0.77},{"s":"hi","t":6.57,"v":0.71},{"s":"hi","t":7.14,"v":0.74},{"s":"hi","t":7.52,"v":0.81},{"s":"hi","t":7.80,"v":0.96},{"s":"hi","t":8.09,"v":1.19},{"s":"hi","t":8.37,"v":1.04},{"s":"hi","t":8.66,"v":1.11},{"s":"hi","t":8.84,"v":0.89},{"s":"hi","t":9.03,"v":0.96},{"s":"hi","t":9.22,"v":1.11},{"s":"hi","t":9.41,"v":0.74},{"s":"hi","t":9.70,"v":0.71},{"s":"hi","t":9.98,"v":0.67},
      {"s":"lo","t":0,"v":-1.63},{"s":"lo","t":0.13,"v":-1.93},{"s":"lo","t":0.28,"v":-2.15},{"s":"lo","t":0.42,"v":-2.15},{"s":"lo","t":0.55,"v":-1.41},{"s":"lo","t":0.80,"v":-1.26},{"s":"lo","t":1.08,"v":-1.11},{"s":"lo","t":1.36,"v":-0.86},{"s":"lo","t":1.65,"v":-0.67},{"s":"lo","t":2.03,"v":-0.71},{"s":"lo","t":2.41,"v":-0.62},{"s":"lo","t":2.78,"v":-0.77},{"s":"lo","t":3.16,"v":-0.92},{"s":"lo","t":3.45,"v":-1.19},{"s":"lo","t":3.73,"v":-1.48},{"s":"lo","t":4.02,"v":-1.70},{"s":"lo","t":4.26,"v":-1.78},{"s":"lo","t":4.39,"v":-2.0},{"s":"lo","t":4.53,"v":-2.37},{"s":"lo","t":4.64,"v":-1.93},{"s":"lo","t":4.77,"v":-0.89},{"s":"lo","t":4.96,"v":-0.86},{"s":"lo","t":5.44,"v":-0.86},{"s":"lo","t":6.00,"v":-0.81},{"s":"lo","t":6.57,"v":-0.77},{"s":"lo","t":7.14,"v":-0.81},{"s":"lo","t":7.52,"v":-0.89},{"s":"lo","t":7.80,"v":-0.89},{"s":"lo","t":8.09,"v":-1.16},{"s":"lo","t":8.37,"v":-1.04},{"s":"lo","t":8.66,"v":-0.96},{"s":"lo","t":8.84,"v":-1.04},{"s":"lo","t":9.03,"v":-0.96},{"s":"lo","t":9.22,"v":-1.16},{"s":"lo","t":9.41,"v":-0.89},{"s":"lo","t":9.70,"v":-0.74},{"s":"lo","t":9.98,"v":-0.62}
    ],
    "Y4": [
      {"s":"err","t":0,"v":0.0},{"s":"err","t":0.06,"v":-1.33},{"s":"err","t":0.15,"v":-2.0},{"s":"err","t":0.23,"v":-2.37},{"s":"err","t":0.29,"v":-2.0},{"s":"err","t":0.34,"v":-1.78},{"s":"err","t":0.42,"v":-0.37},{"s":"err","t":0.53,"v":-0.52},{"s":"err","t":0.67,"v":-0.07},{"s":"err","t":0.76,"v":0.15},{"s":"err","t":0.91,"v":-0.07},{"s":"err","t":1.05,"v":0.15},{"s":"err","t":1.14,"v":0.44},{"s":"err","t":1.33,"v":0.59},{"s":"err","t":1.52,"v":0.74},{"s":"err","t":1.68,"v":0.37},{"s":"err","t":1.81,"v":-0.07},{"s":"err","t":2.0,"v":-0.15},{"s":"err","t":2.19,"v":-0.07},{"s":"err","t":2.38,"v":0.0},{"s":"err","t":2.57,"v":0.22},{"s":"err","t":2.76,"v":0.44},{"s":"err","t":2.95,"v":0.22},{"s":"err","t":3.14,"v":0.30},{"s":"err","t":3.43,"v":0.37},{"s":"err","t":3.71,"v":0.44},{"s":"err","t":4.0,"v":0.37},{"s":"err","t":4.19,"v":0.59},{"s":"err","t":4.38,"v":0.37},{"s":"err","t":4.57,"v":0.15},{"s":"err","t":4.76,"v":-0.07},{"s":"err","t":4.95,"v":0.22},{"s":"err","t":5.14,"v":0.30},{"s":"err","t":5.33,"v":0.0},{"s":"err","t":5.52,"v":-0.22},{"s":"err","t":5.71,"v":-0.15},{"s":"err","t":5.90,"v":-0.12},{"s":"err","t":6.19,"v":-0.03},{"s":"err","t":6.38,"v":-0.15},{"s":"err","t":6.67,"v":-0.37},{"s":"err","t":6.95,"v":-0.52},{"s":"err","t":7.14,"v":-0.62},{"s":"err","t":7.33,"v":-0.59},{"s":"err","t":7.43,"v":-0.44},{"s":"err","t":7.62,"v":-0.30},{"s":"err","t":7.81,"v":-0.22},{"s":"err","t":8.0,"v":-0.30},{"s":"err","t":8.19,"v":-0.07},{"s":"err","t":8.38,"v":-0.30},{"s":"err","t":8.67,"v":-0.22},{"s":"err","t":8.86,"v":0.07},{"s":"err","t":9.05,"v":-0.15},{"s":"err","t":9.33,"v":-0.07},{"s":"err","t":9.52,"v":-0.15},{"s":"err","t":9.71,"v":0.07},{"s":"err","t":9.96,"v":0.44},
      {"s":"hi","t":0,"v":3.19},{"s":"hi","t":0.10,"v":2.52},{"s":"hi","t":0.19,"v":1.33},{"s":"hi","t":0.38,"v":1.48},{"s":"hi","t":0.57,"v":1.41},{"s":"hi","t":0.76,"v":1.66},{"s":"hi","t":0.95,"v":1.33},{"s":"hi","t":1.14,"v":1.04},{"s":"hi","t":1.33,"v":0.81},{"s":"hi","t":1.52,"v":0.89},{"s":"hi","t":1.71,"v":0.67},{"s":"hi","t":2.10,"v":0.74},{"s":"hi","t":2.48,"v":0.74},{"s":"hi","t":2.86,"v":0.77},{"s":"hi","t":3.24,"v":0.67},{"s":"hi","t":3.62,"v":0.71},{"s":"hi","t":4.0,"v":0.67},{"s":"hi","t":4.23,"v":0.81},{"s":"hi","t":4.48,"v":0.67},{"s":"hi","t":4.95,"v":0.59},{"s":"hi","t":5.52,"v":0.67},{"s":"hi","t":6.10,"v":0.74},{"s":"hi","t":6.67,"v":0.67},{"s":"hi","t":7.24,"v":0.81},{"s":"hi","t":7.71,"v":0.89},{"s":"hi","t":8.19,"v":0.96},{"s":"hi","t":8.67,"v":1.04},{"s":"hi","t":8.95,"v":0.89},{"s":"hi","t":9.33,"v":0.71},{"s":"hi","t":9.71,"v":0.81},{"s":"hi","t":9.96,"v":0.81},
      {"s":"lo","t":0,"v":-3.26},{"s":"lo","t":0.10,"v":-2.37},{"s":"lo","t":0.19,"v":-1.33},{"s":"lo","t":0.38,"v":-1.26},{"s":"lo","t":0.57,"v":-1.33},{"s":"lo","t":0.76,"v":-1.63},{"s":"lo","t":0.95,"v":-1.41},{"s":"lo","t":1.14,"v":-1.04},{"s":"lo","t":1.33,"v":-0.81},{"s":"lo","t":1.52,"v":-0.89},{"s":"lo","t":1.71,"v":-0.67},{"s":"lo","t":1.90,"v":-0.49},{"s":"lo","t":2.29,"v":-0.59},{"s":"lo","t":2.67,"v":-0.67},{"s":"lo","t":3.05,"v":-0.71},{"s":"lo","t":3.62,"v":-0.74},{"s":"lo","t":4.19,"v":-0.81},{"s":"lo","t":4.57,"v":-0.67},{"s":"lo","t":4.95,"v":-0.52},{"s":"lo","t":5.52,"v":-0.59},{"s":"lo","t":6.10,"v":-0.62},{"s":"lo","t":6.67,"v":-0.52},{"s":"lo","t":7.24,"v":-0.62},{"s":"lo","t":7.71,"v":-0.71},{"s":"lo","t":8.19,"v":-0.92},{"s":"lo","t":8.67,"v":-0.96},{"s":"lo","t":8.95,"v":-0.86},{"s":"lo","t":9.33,"v":-0.81},{"s":"lo","t":9.71,"v":-0.77},{"s":"lo","t":9.96,"v":-0.77}
    ]
  },
  "columns": 4,
  "spacing": {"row": 75, "column": 56},
  "bounds": "flush",
  "concat": [
    {"width": 175, "height": 181, "title": "POS ERRORS - TGT 1", "data": {"name": "X1"}, "mark": "line",
     "encoding": {
       "x": {"field": "t", "type": "quantitative", "scale": {"domain": [0, 10], "nice": false}, "axis": {"values": [0, 5, 10], "title": "T (SEC)"}},
       "y": {"field": "v", "type": "quantitative", "scale": {"domain": [-4, 4], "nice": false}, "axis": {"values": [-4, -2, 0, 2, 4], "title": "X ERROR (PIXELS)"}},
       "color": {"field": "s", "type": "nominal", "scale": {"domain": ["err", "hi", "lo"], "range": ["#000000", "#ff0000", "#ff0000"]}, "legend": null},
       "strokeDash": {"field": "s", "type": "nominal", "scale": {"domain": ["err", "hi", "lo"], "range": [[1, 0], [1, 0], [5, 3]]}, "legend": null}
     }},
    {"width": 175, "height": 181, "title": "POS ERRORS - TGT 2", "data": {"name": "X2"}, "mark": "line",
     "encoding": {
       "x": {"field": "t", "type": "quantitative", "scale": {"domain": [0, 10], "nice": false}, "axis": {"values": [0, 5, 10], "title": "T (SEC)"}},
       "y": {"field": "v", "type": "quantitative", "scale": {"domain": [-4, 4], "nice": false}, "axis": {"values": [-4, -2, 0, 2, 4], "title": "X ERROR (PIXELS)"}},
       "color": {"field": "s", "type": "nominal", "scale": {"domain": ["err", "hi", "lo"], "range": ["#000000", "#ff0000", "#ff0000"]}, "legend": null},
       "strokeDash": {"field": "s", "type": "nominal", "scale": {"domain": ["err", "hi", "lo"], "range": [[1, 0], [1, 0], [5, 3]]}, "legend": null}
     }},
    {"width": 175, "height": 181, "title": "POS ERRORS - TGT 3", "data": {"name": "X3"}, "mark": "line",
     "encoding": {
       "x": {"field": "t", "type": "quantitative", "scale": {"domain": [0, 10], "nice": false}, "axis": {"values": [0, 5, 10], "title": "T (SEC)"}},
       "y": {"field": "v", "type": "quantitative", "scale": {"domain": [-4, 4], "nice": false}, "axis": {"values": [-4, -2, 0, 2, 4], "title": "X ERROR (PIXELS)"}},
       "color": {"field": "s", "type": "nominal", "scale": {"domain": ["err", "hi", "lo"], "range": ["#000000", "#ff0000", "#ff0000"]}, "legend": null},
       "strokeDash": {"field": "s", "type": "nominal", "scale": {"domain": ["err", "hi", "lo"], "range": [[1, 0], [1, 0], [5, 3]]}, "legend": null}
     }},
    {"width": 175, "height": 181, "title": "POS ERRORS - TGT 4", "data": {"name": "X4"}, "mark": "line",
     "encoding": {
       "x": {"field": "t", "type": "quantitative", "scale": {"domain": [0, 10], "nice": false}, "axis": {"values": [0, 5, 10], "title": "T (SEC)", "labelFlush": true, "labelFlushOffset": 5}},
       "y": {"field": "v", "type": "quantitative", "scale": {"domain": [-4, 4], "nice": false}, "axis": {"values": [-4, -2, 0, 2, 4], "title": "X ERROR (PIXELS)"}},
       "color": {"field": "s", "type": "nominal", "scale": {"domain": ["err", "hi", "lo"], "range": ["#000000", "#ff0000", "#ff0000"]}, "legend": null},
       "strokeDash": {"field": "s", "type": "nominal", "scale": {"domain": ["err", "hi", "lo"], "range": [[1, 0], [1, 0], [5, 3]]}, "legend": null}
     }},
    {"width": 175, "height": 181, "data": {"name": "Y1"}, "mark": "line",
     "encoding": {
       "x": {"field": "t", "type": "quantitative", "scale": {"domain": [0, 10], "nice": false}, "axis": {"values": [0, 5, 10], "title": "T (SEC)"}},
       "y": {"field": "v", "type": "quantitative", "scale": {"domain": [-4, 4], "nice": false}, "axis": {"values": [-4, -2, 0, 2, 4], "title": "Y ERROR (PIXELS)"}},
       "color": {"field": "s", "type": "nominal", "scale": {"domain": ["err", "hi", "lo"], "range": ["#000000", "#ff0000", "#ff0000"]}, "legend": null},
       "strokeDash": {"field": "s", "type": "nominal", "scale": {"domain": ["err", "hi", "lo"], "range": [[1, 0], [1, 0], [5, 3]]}, "legend": null}
     }},
    {"width": 175, "height": 181, "data": {"name": "Y2"}, "mark": "line",
     "encoding": {
       "x": {"field": "t", "type": "quantitative", "scale": {"domain": [0, 10], "nice": false}, "axis": {"values": [0, 5, 10], "title": "T (SEC)"}},
       "y": {"field": "v", "type": "quantitative", "scale": {"domain": [-4, 4], "nice": false}, "axis": {"values": [-4, -2, 0, 2, 4], "title": "Y ERROR (PIXELS)"}},
       "color": {"field": "s", "type": "nominal", "scale": {"domain": ["err", "hi", "lo"], "range": ["#000000", "#ff0000", "#ff0000"]}, "legend": null},
       "strokeDash": {"field": "s", "type": "nominal", "scale": {"domain": ["err", "hi", "lo"], "range": [[1, 0], [1, 0], [5, 3]]}, "legend": null}
     }},
    {"width": 175, "height": 181, "data": {"name": "Y3"}, "mark": "line",
     "encoding": {
       "x": {"field": "t", "type": "quantitative", "scale": {"domain": [0, 10], "nice": false}, "axis": {"values": [0, 5, 10], "title": "T (SEC)"}},
       "y": {"field": "v", "type": "quantitative", "scale": {"domain": [-4, 4], "nice": false}, "axis": {"values": [-4, -2, 0, 2, 4], "title": "Y ERROR (PIXELS)"}},
       "color": {"field": "s", "type": "nominal", "scale": {"domain": ["err", "hi", "lo"], "range": ["#000000", "#ff0000", "#ff0000"]}, "legend": null},
       "strokeDash": {"field": "s", "type": "nominal", "scale": {"domain": ["err", "hi", "lo"], "range": [[1, 0], [1, 0], [5, 3]]}, "legend": null}
     }},
    {"width": 175, "height": 181, "data": {"name": "Y4"}, "mark": "line",
     "encoding": {
       "x": {"field": "t", "type": "quantitative", "scale": {"domain": [0, 10], "nice": false}, "axis": {"values": [0, 5, 10], "title": "T (SEC)", "labelFlush": true, "labelFlushOffset": 5}},
       "y": {"field": "v", "type": "quantitative", "scale": {"domain": [-4, 4], "nice": false}, "axis": {"values": [-4, -2, 0, 2, 4], "title": "Y ERROR (PIXELS)"}},
       "color": {"field": "s", "type": "nominal", "scale": {"domain": ["err", "hi", "lo"], "range": ["#000000", "#ff0000", "#ff0000"]}, "legend": null},
       "strokeDash": {"field": "s", "type": "nominal", "scale": {"domain": ["err", "hi", "lo"], "range": [[1, 0], [1, 0], [5, 3]]}, "legend": null}
     }}
  ]
}
